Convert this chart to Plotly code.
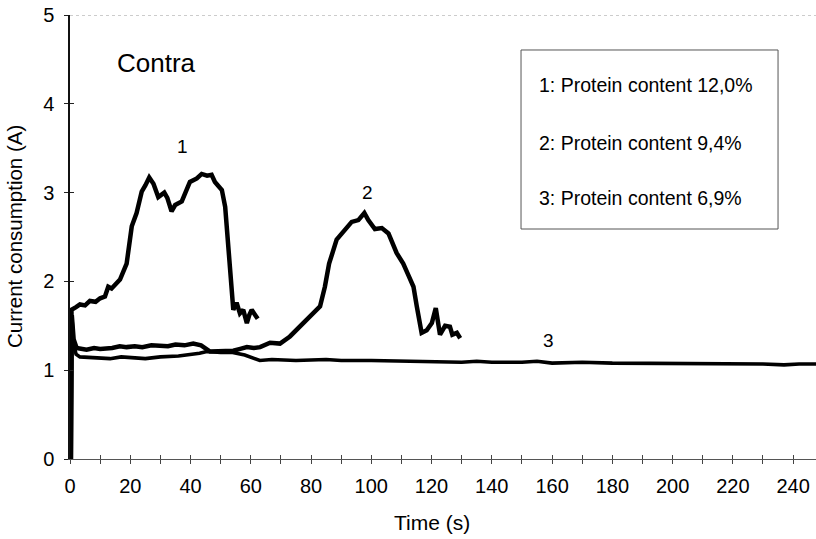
import plotly.graph_objects as go

# ---- data ----
c1_x = [0.3, 0.5, 2.0, 3.3, 5.0, 6.6, 8.5, 10.0, 11.6, 12.7, 13.8, 15.0, 16.6, 18.8, 19.8, 20.5,
        22.1, 23.8, 25.0, 26.3, 27.7, 29.3, 31.3, 32.3, 33.7, 34.9, 37.1, 38.2, 39.8, 42.1,
        43.7, 45.5, 47.0, 48.1, 50.4, 51.5, 52.6, 53.7, 54.2, 55.3, 56.4, 57.5, 58.7, 59.5,
        60.3, 61.5, 62.3]
c1_y = [0.0, 1.68, 1.71, 1.74, 1.73, 1.78, 1.77, 1.81, 1.83, 1.94, 1.92, 1.96, 2.02, 2.20, 2.45,
        2.62, 2.77, 3.01, 3.08, 3.17, 3.10, 2.95, 3.00, 2.94, 2.79, 2.86, 2.90, 2.99, 3.12,
        3.16, 3.21, 3.19, 3.20, 3.12, 3.03, 2.84, 2.35, 1.83, 1.68, 1.76, 1.64, 1.68, 1.53,
        1.62, 1.68, 1.62, 1.58]

c2_x = [0.3, 0.6, 1.2, 2.2, 5.5, 8.0, 10.0, 14.0, 16.5, 18.8, 21.5, 24.0, 27.0, 29.9, 32.5,
        35.0, 38.0, 40.9, 43.5, 46.5, 50.0, 54.2, 56.5, 58.7, 61.0, 63.1, 66.4, 69.7, 73.0,
        76.3, 79.7, 83.0, 84.6, 86.0, 88.5, 90.7, 93.5, 95.7, 97.7, 99.0, 101.2, 103.5, 105.7,
        108.4, 110.6, 112.3, 114.0, 115.1, 116.7, 118.4, 120.1, 121.4, 122.8, 124.5, 126.1,
        126.9, 128.4, 129.5]
c2_y = [0.0, 1.62, 1.35, 1.25, 1.23, 1.25, 1.24, 1.25, 1.27, 1.26, 1.27, 1.26, 1.28, 1.28, 1.27,
        1.29, 1.28, 1.30, 1.28, 1.21, 1.22, 1.22, 1.24, 1.26, 1.25, 1.26, 1.31, 1.30, 1.38,
        1.49, 1.60, 1.72, 1.94, 2.20, 2.47, 2.56, 2.67, 2.69, 2.77, 2.69, 2.59, 2.60, 2.54,
        2.32, 2.20, 2.07, 1.94, 1.72, 1.42, 1.45, 1.53, 1.70, 1.40, 1.50, 1.49,
        1.40, 1.42, 1.36]

c3_x = [0.3, 0.6, 1.2, 2.0, 3.3, 8.0, 13.3, 17.0, 20.0, 25.0, 30.0, 36.0, 43.0, 45.4, 50.0,
        54.0, 58.0, 61.0, 63.0, 67.0, 75.0, 85.0, 90.0, 100.0, 110.0, 120.0, 130.0, 135.0,
        140.0, 150.0, 155.0, 160.0, 170.0, 180.0, 190.0, 200.0, 210.0, 220.0, 225.0, 230.0,
        237.0, 242.0, 247.6]
c3_y = [0.0, 1.62, 1.30, 1.18, 1.15, 1.14, 1.13, 1.15, 1.14, 1.13, 1.15, 1.16, 1.19, 1.21, 1.20,
        1.20, 1.17, 1.13, 1.11, 1.12, 1.11, 1.12, 1.11, 1.11, 1.10, 1.10, 1.09, 1.10,
        1.09, 1.09, 1.10, 1.08, 1.09, 1.08, 1.08, 1.08, 1.08, 1.07, 1.08, 1.07,
        1.06, 1.07, 1.07]

legend_texts = ["1: Protein content 12,0%", "2: Protein content 9,4%", "3: Protein content 6,9%"]
curve_labels = ["1", "2", "3"]
x_ticks = list(range(0, 250, 20))
y_ticks = [0, 1, 2, 3, 4, 5]

FONT = "Liberation Sans, Arial, sans-serif"

fig = go.Figure()
for xs, ys, w in [(c1_x, c1_y, 4.5), (c2_x, c2_y, 4.5), (c3_x, c3_y, 3.6)]:
    fig.add_trace(go.Scatter(x=xs, y=ys, mode="lines",
                             line=dict(color="black", width=w, shape="linear"),
                             showlegend=False, hoverinfo="skip"))
# dummy trace for overlay axes (inside ticks)
fig.add_trace(go.Scatter(x=[None], y=[None], xaxis="x2", yaxis="y2", showlegend=False))

XR = [0, 247.6]
fig.update_layout(
    width=816, height=539,
    margin=dict(l=70, r=0, t=15, b=80),
    paper_bgcolor="white", plot_bgcolor="white",
    font=dict(family=FONT, size=20, color="black"),
    xaxis=dict(range=XR, tickvals=x_ticks, ticks="outside", ticklen=4, tickcolor="#444",
               showgrid=False, zeroline=False, showline=True, linecolor="#555", linewidth=1,
               minor=dict(dtick=10, tick0=0, ticks="outside", ticklen=4, tickcolor="#444"),
               tickfont=dict(size=20), ticklabelstandoff=5),
    yaxis=dict(range=[0, 5], tickvals=y_ticks, ticks="outside", ticklen=4, tickcolor="#222",
               showgrid=False, zeroline=False, showline=True, linecolor="#111", linewidth=1.5,
               tickfont=dict(size=20), ticklabelstandoff=6),
    xaxis2=dict(range=XR, overlaying="x", matches="x", tickvals=x_ticks, ticks="inside",
                ticklen=4, tickcolor="#444", showticklabels=False, showgrid=False,
                zeroline=False, showline=False, side="bottom",
                minor=dict(dtick=10, tick0=0, ticks="inside", ticklen=4, tickcolor="#444")),
    yaxis2=dict(range=[0, 5], overlaying="y", matches="y", tickvals=y_ticks, ticks="inside",
                ticklen=4, tickcolor="#222", showticklabels=False, showgrid=False,
                zeroline=False, showline=False, side="left"),
)

# top dotted border
fig.add_shape(type="line", xref="paper", yref="y", x0=0, x1=1, y0=5, y1=5,
              line=dict(color="#999", width=1, dash="dot"))
# legend box
fig.add_shape(type="rect", xref="x", yref="y", x0=149.7, x1=235.0, y0=2.59, y1=4.606,
              line=dict(color="#555", width=1))

for txt, yy in zip(legend_texts, [4.21, 3.56, 2.94]):
    fig.add_annotation(x=155.0, y=yy, xref="x", yref="y", text=txt, showarrow=False,
                       xanchor="left", yanchor="middle", font=dict(size=19.5, family=FONT))

for lab, xx, yy in zip(curve_labels, [37.4, 98.6, 158.7], [3.52, 3.0, 1.34]):
    fig.add_annotation(x=xx, y=yy, xref="x", yref="y", text=lab, showarrow=False,
                       xanchor="center", yanchor="middle", font=dict(size=19, family=FONT))

fig.add_annotation(x=14.9, y=4.465, xref="x", yref="y", text="Contra", showarrow=False,
                   xanchor="left", yanchor="middle", font=dict(size=26, family=FONT))

fig.add_annotation(x=120, y=-0.142, xref="x", yref="paper", text="Time (s)", showarrow=False,
                   xanchor="center", yanchor="middle", font=dict(size=21, family=FONT))
fig.add_annotation(x=-0.075, y=0.5, xref="paper", yref="paper", text="Current consumption (A)",
                   showarrow=False, textangle=-90, xanchor="center", yanchor="middle",
                   font=dict(size=20.5, family=FONT))

fig.write_html("out.html")
